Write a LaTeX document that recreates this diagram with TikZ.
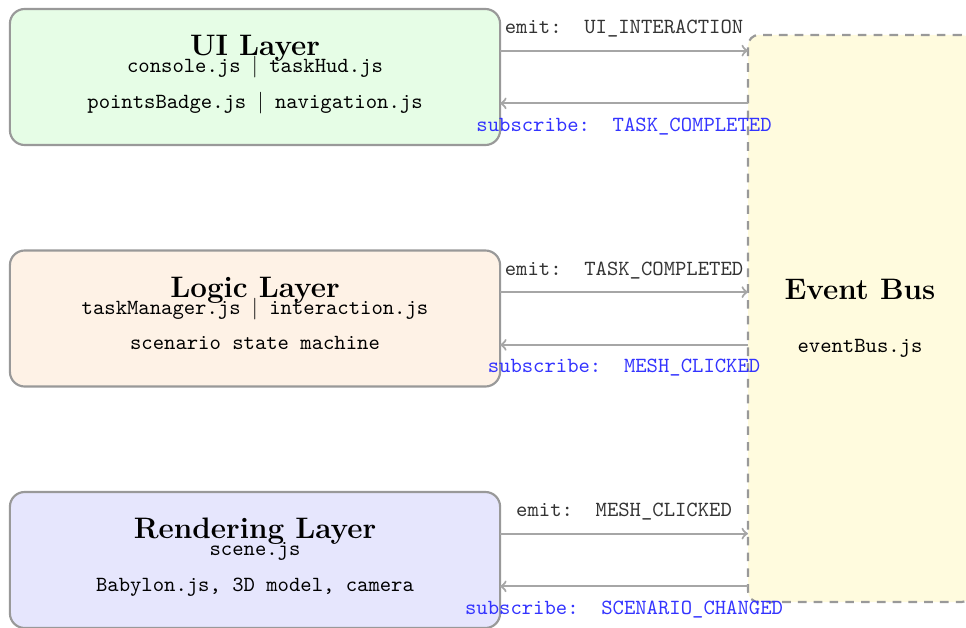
\documentclass[tikz,border=0pt]{standalone}
\usetikzlibrary{calc}
\definecolor{uifill}{HTML}{E6FDE6}
\definecolor{logicfill}{HTML}{FEF2E6}
\definecolor{renderfill}{HTML}{E6E6FD}
\definecolor{busfill}{HTML}{FFFBDE}
\begin{document}
\begin{tikzpicture}[x=0.4625pt,y=-0.4625pt,
  layerbox/.style={draw=gray!80, line width=1pt, rounded corners=6.8pt,
    minimum width=226.7pt, minimum height=62.9pt, inner sep=0pt, outer sep=0pt},
  busbox/.style={draw=gray!80, line width=1pt, dash pattern=on 4pt off 3.3pt,
    rounded corners=5pt, fill=busfill, minimum width=103.6pt,
    minimum height=262.3pt, inner sep=0pt, outer sep=0pt},
  ttl/.style={font=\fontsize{13.7}{16}\selectfont\bfseries, anchor=base, inner sep=0pt},
  files/.style={font=\ttfamily, anchor=base, inner sep=0pt},
  flow/.style={draw=gray!70, line width=1pt, ->},
  emitlbl/.style={font=\ttfamily, text=black!80, anchor=base, inner sep=0pt},
  sublbl/.style={font=\ttfamily, text=blue!80, anchor=base, inner sep=0pt}]
\useasboundingbox (0,0) rectangle (966,628);

% event bus on the right
\node[busbox] (bus) at (860,318.5) {};
\node[ttl] (bus-title) at ([yshift=8.9pt]bus.center) {Event Bus};
\node[files] (bus-file) at ([yshift=-15.8pt]bus.center) {eventBus.js};

% the three layers
\node[layerbox, fill=uifill] (ui) at (255,77) {};
\node[ttl] (ui-title) at ([yshift=9.76pt]ui.center) {UI Layer};
\node[files] (ui-a) at ([yshift=2.05pt]ui.center) {console.js $|$ taskHud.js};
\node[files] (ui-b) at ([yshift=-14.5pt]ui.center) {pointsBadge.js $|$ navigation.js};

\node[layerbox, fill=logicfill] (logic) at (255,318.5) {};
\node[ttl] (logic-title) at ([yshift=9.76pt]logic.center) {Logic Layer};
\node[files] (logic-a) at ([yshift=2.05pt]logic.center) {taskManager.js $|$ interaction.js};
\node[files] (logic-b) at ([yshift=-14.5pt]logic.center) {scenario state machine};

\node[layerbox, fill=renderfill] (render) at (255,560) {};
\node[ttl] (render-title) at ([yshift=9.76pt]render.center) {Rendering Layer};
\node[files] (render-a) at ([yshift=2.05pt]render.center) {scene.js};
\node[files] (render-b) at ([yshift=-14.5pt]render.center) {Babylon.js, 3D model, camera};

% emit / subscribe connectors
\foreach \lay/\emitted/\heard in {ui/UI\_INTERACTION/TASK\_COMPLETED,
    logic/TASK\_COMPLETED/MESH\_CLICKED,
    render/MESH\_CLICKED/SCENARIO\_CHANGED}{
  \coordinate (\lay-out) at ([yshift=12.2pt]\lay.east);
  \coordinate (\lay-in) at ([yshift=-12.2pt]\lay.east);
  \draw[flow] (\lay-out) -- (\lay-out -| bus.west)
    node[emitlbl, midway, yshift=7.8pt] {emit:\ \ \emitted};
  \draw[flow] (\lay-in -| bus.west) -- (\lay-in)
    node[sublbl, midway, yshift=-12.9pt] {subscribe:\ \ \heard};
}
\end{tikzpicture}
\end{document}
